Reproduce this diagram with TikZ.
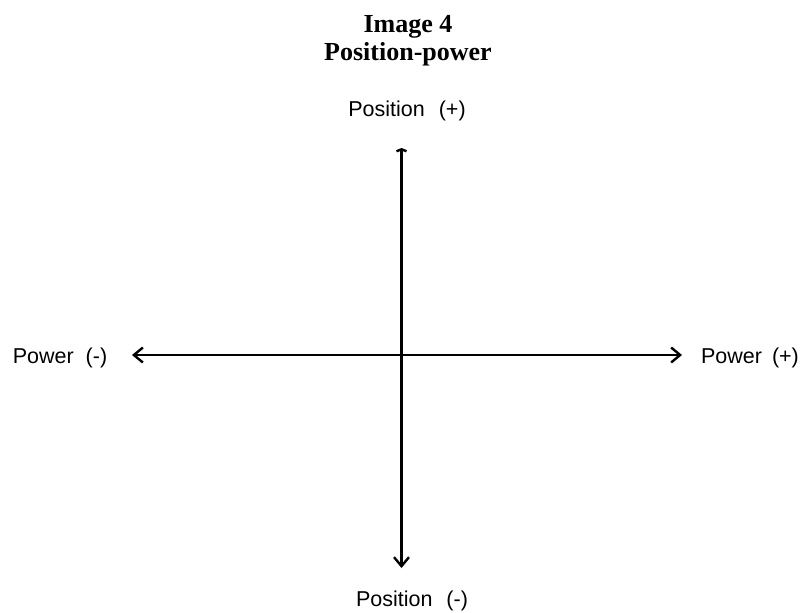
\documentclass[tikz,border=0pt]{standalone}
\usepackage{fontspec}
\setmainfont{Liberation Serif}
\newfontfamily\labelfont{Liberation Sans}
\usetikzlibrary{arrows.meta}
\begin{document}
\begin{tikzpicture}[x=1pt,y=1pt,
  title/.style={font=\fontsize{26}{28}\selectfont\bfseries, anchor=base, inner sep=0pt},
  axislabel/.style={font=\labelfont\fontsize{21.5}{24}\selectfont, anchor=base, inner sep=0pt},
  axis/.style={line width=2.4pt, line cap=butt},
]
\useasboundingbox (0,0) rectangle (801,-613);
\node[title] (t1) at (408,-32) {Image 4};
\node[title] (t2) at (408,-60) {Position-power};
\node[axislabel] (ptop) at (407,-116) {Position\hspace{14pt}(+)};
\node[axislabel] (pbot) at (412,-606) {Position\hspace{14pt}(-)};
\node[axislabel] (wl) at (60,-363) {Power\hspace{12pt}(-)};
\node[axislabel] (wr) at (750,-363) {Power\hspace{10pt}(+)};
\coordinate (top) at (401.5,-148);
\coordinate (bot) at (401.5,-568);
\coordinate (L) at (132,-355);
\coordinate (R) at (682,-355);
\draw[axis, {Straight Barb[length=2pt,width=10pt]}-{Straight Barb[length=9pt,width=15pt]}] (top) -- (bot);
\draw[axis, {Straight Barb[length=9pt,width=15pt]}-{Straight Barb[length=9pt,width=15pt]}] (L) -- (R);
\end{tikzpicture}
\end{document}
